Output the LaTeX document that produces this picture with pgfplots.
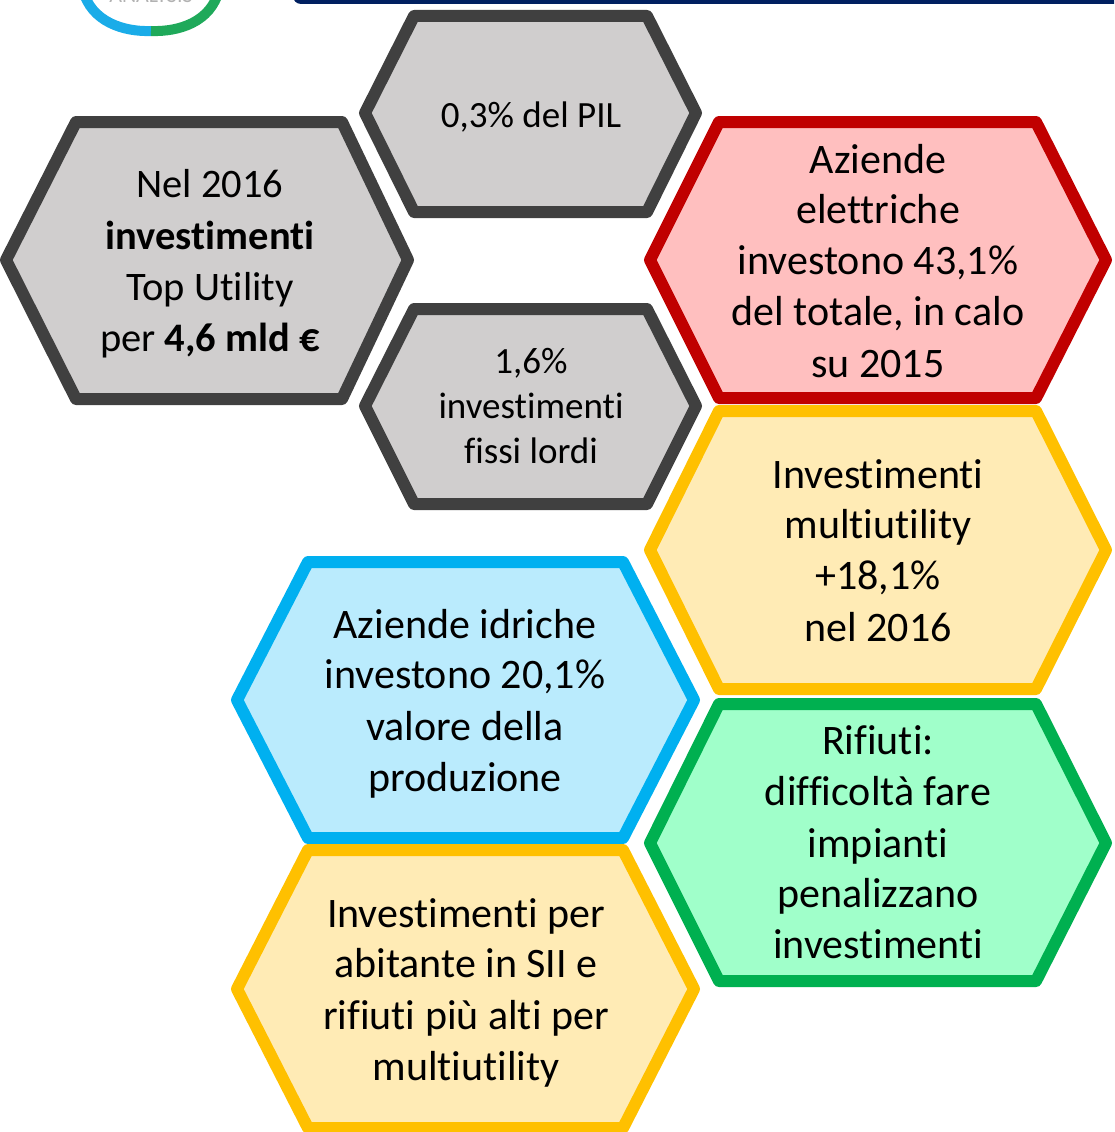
\documentclass[border=0pt]{standalone}
\usepackage{pgfplots}
\pgfplotsset{compat=1.18}
\usepackage{fontspec}
\setmainfont{Carlito}[Ligatures=NoCommon]
\definecolor{grayfill}{HTML}{D0CECE}
\definecolor{grayline}{HTML}{404040}
\definecolor{redfill}{HTML}{FFBFBF}
\definecolor{redline}{HTML}{C00000}
\definecolor{yelfill}{HTML}{FFEBB5}
\definecolor{yelline}{HTML}{FFC000}
\definecolor{bluefill}{HTML}{BAEBFD}
\definecolor{blueline}{HTML}{00B0F0}
\definecolor{grnfill}{HTML}{A0FFCA}
\definecolor{grnline}{HTML}{00B050}
\definecolor{navy}{HTML}{002060}
\definecolor{logocyan}{HTML}{1AACE8}
\definecolor{logogreen}{HTML}{1FA95A}
\newcommand{\hbig}{\fontsize{42}{51}\selectfont}
\newcommand{\hone}{\fontsize{40.5}{51}\selectfont}
\newcommand{\hmid}{\fontsize{37}{45}\selectfont}
\tikzset{hex/.style={line width=12pt, line join=round},
  lbl/.style={anchor=base, inner sep=0pt, text=black}}
\begin{document}
\begin{tikzpicture}
\begin{axis}[
  width=1115pt, height=1132pt, scale only axis,
  xmin=0, xmax=1115, ymin=0, ymax=1132, y dir=reverse,
  axis lines=none, ticks=none, no markers,
  clip=true,
]
% top decorations
\draw[logocyan, line width=10pt] (axis cs:84,-10) .. controls (axis cs:92,22) and (axis cs:125,32) .. (axis cs:152,31);
\draw[logogreen, line width=10pt] (axis cs:152,31) .. controls (axis cs:180,32) and (axis cs:212,22) .. (axis cs:220,-10);
\node[anchor=base, inner sep=0pt, text=black!30, font=\fontsize{22}{22}\selectfont] at (axis cs:152,3) {ANALYSIS};
\fill[navy, rounded corners=8pt] (axis cs:294,-40) rectangle (axis cs:1140,4);

% hexagons
\addplot[hex, draw=grayline, fill=grayfill] coordinates {(7,260) (77,122) (343,122) (409,260) (343,399) (77,399)} -- cycle;
\addplot[hex, draw=grayline, fill=grayfill] coordinates {(366,113) (415,16) (648,16) (697,113) (648,212) (415,212)} -- cycle;
\addplot[hex, draw=grayline, fill=grayfill] coordinates {(366,406) (415,309) (648,309) (697,406) (648,504) (415,504)} -- cycle;
\addplot[hex, draw=redline, fill=redfill] coordinates {(651,260) (720,122) (1037,122) (1107,260) (1037,398) (720,398)} -- cycle;
\addplot[hex, draw=yelline, fill=yelfill] coordinates {(651,550) (720,411) (1037,411) (1107,550) (1037,689) (720,689)} -- cycle;
\addplot[hex, draw=blueline, fill=bluefill] coordinates {(238,700) (309,562) (624,562) (695,700) (624,838) (309,838)} -- cycle;
\addplot[hex, draw=grnline, fill=grnfill] coordinates {(651,843) (720,704) (1037,704) (1107,843) (1037,981) (720,981)} -- cycle;
\addplot[hex, draw=yelline, fill=yelfill] coordinates {(238,989) (309,850) (624,850) (695,989) (624,1128) (309,1128)} -- cycle;

% texts
\node[lbl, font=\hone] at (axis cs:211,197) {Nel 2016};
\node[lbl, font=\hone] at (axis cs:211,249) {\bfseries investimenti};
\node[lbl, font=\hone] at (axis cs:211,300) {Top Utility};
\node[lbl, font=\hone] at (axis cs:211,351) {per \textbf{4,6 mld €}};

\node[lbl, font=\hmid] at (axis cs:532,127) {0,3\% del PIL};

\node[lbl, font=\hmid] at (axis cs:532,373) {1,6\%};
\node[lbl, font=\hmid] at (axis cs:532,418) {investimenti};
\node[lbl, font=\hmid] at (axis cs:532,463) {fissi lordi};

\node[lbl, font=\hbig] at (axis cs:879,173) {Aziende};
\node[lbl, font=\hbig] at (axis cs:879,223) {elettriche};
\node[lbl, font=\hbig] at (axis cs:879,274) {investono 43,1\%};
\node[lbl, font=\hbig] at (axis cs:879,325) {del totale, in calo};
\node[lbl, font=\hbig] at (axis cs:879,377) {su 2015};

\node[lbl, font=\hbig] at (axis cs:879,488) {Investimenti};
\node[lbl, font=\hbig] at (axis cs:879,538) {multiutility};
\node[lbl, font=\hbig] at (axis cs:879,589) {+18,1\%};
\node[lbl, font=\hbig] at (axis cs:879,641) {nel 2016};

\node[lbl, font=\hbig] at (axis cs:466,638) {Aziende idriche};
\node[lbl, font=\hbig] at (axis cs:466,688) {investono 20,1\%};
\node[lbl, font=\hbig] at (axis cs:466,740) {valore della};
\node[lbl, font=\hbig] at (axis cs:466,791) {produzione};

\node[lbl, font=\hbig] at (axis cs:879,754) {Rifiuti:};
\node[lbl, font=\hbig] at (axis cs:879,805) {difficoltà fare};
\node[lbl, font=\hbig] at (axis cs:879,857) {impianti};
\node[lbl, font=\hbig] at (axis cs:879,907) {penalizzano};
\node[lbl, font=\hbig] at (axis cs:879,958) {investimenti};

\node[lbl, font=\hbig] at (axis cs:467,927) {Investimenti per};
\node[lbl, font=\hbig] at (axis cs:467,977) {abitante in SII e};
\node[lbl, font=\hbig] at (axis cs:467,1029) {rifiuti più alti per};
\node[lbl, font=\hbig] at (axis cs:467,1080) {multiutility};
\end{axis}
\end{tikzpicture}
\end{document}
